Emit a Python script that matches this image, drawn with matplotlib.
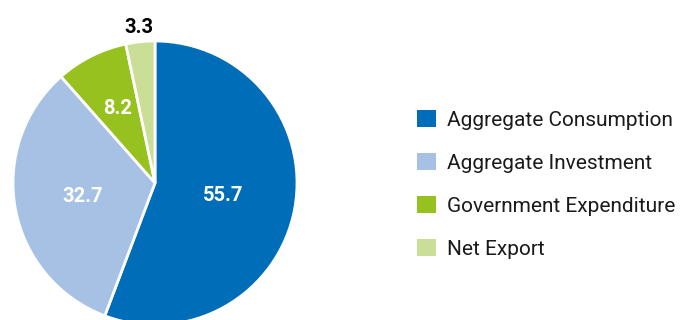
import numpy as np
import matplotlib.pyplot as plt
from matplotlib.patches import Patch

# GDP composition (%)
categories = ["Aggregate Consumption", "Aggregate Investment",
              "Government Expenditure", "Net Export"]
shares = [55.7, 32.7, 8.2, 3.3]
colors = ["#006DB8", "#A6C1E4", "#96C11F", "#CBDE97"]

# where each value label sits (fraction of radius) and its colour
label_dist = [0.49, 0.52, 0.59, 1.10]
label_color = ["white", "white", "white", "black"]

plt.rcParams['font.family'] = ['Roboto', 'DejaVu Sans']

fig = plt.figure(figsize=(6.83, 3.2), dpi=100)
ax = fig.add_axes([0, 0, 1, 1])

cx, cy, r = 155, 137, 142
wedges, _ = ax.pie(shares, colors=colors, startangle=90, counterclock=False,
                   center=(cx, cy), radius=r, frame=True,
                   wedgeprops=dict(edgecolor="white", linewidth=2))
ax.set_xlim(0, 683)
ax.set_ylim(0, 320)
ax.set_aspect("equal")
ax.axis("off")

for w, val, d, c in zip(wedges, shares, label_dist, label_color):
    mid = np.deg2rad((w.theta1 + w.theta2) / 2)
    ax.text(cx + d * r * np.cos(mid), cy + d * r * np.sin(mid), f"{val}",
            ha="center", va="center", fontsize=14.5, fontweight="bold", color=c)

handles = [Patch(facecolor=c, edgecolor="none") for c in colors]
fig.legend(handles, categories, loc="center left", bbox_to_anchor=(417 / 683, 0.423),
           frameon=False, fontsize=15, handlelength=0.92, handleheight=0.88,
           handletextpad=0.5, labelspacing=1.12, borderpad=0, borderaxespad=0,
           labelcolor="#1a1a1a")

fig.savefig("out.png", dpi=100)
